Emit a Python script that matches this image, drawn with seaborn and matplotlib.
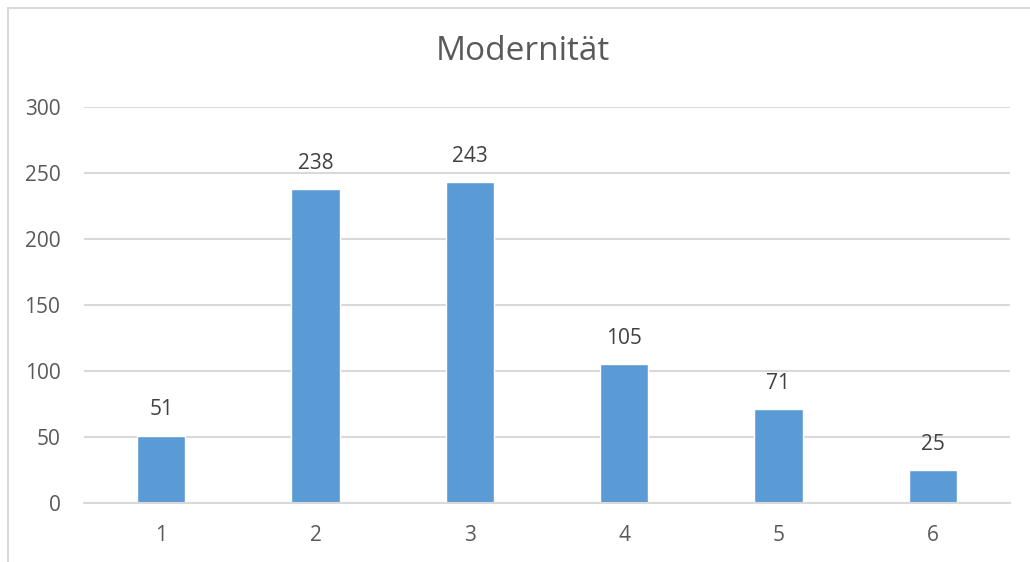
import matplotlib
matplotlib.use("Agg")
import matplotlib.pyplot as plt
import seaborn as sns
from matplotlib.lines import Line2D

# Data
categories = ["1", "2", "3", "4", "5", "6"]
values = [51, 238, 243, 105, 71, 25]
y_ticks = [0, 50, 100, 150, 200, 250, 300]
title = "Modernität"

BAR_COLOR = "#5B9BD5"
GRID_COLOR = "#D9D9D9"
TEXT_COLOR = "#595959"
LABEL_COLOR = "#404040"

sns.set_style("white")
plt.rcParams['font.family'] = ['Open Sans', 'DejaVu Sans']

fig = plt.figure(figsize=(10.3, 5.62), dpi=100)
ax = fig.add_axes([84 / 1030, 1 - 503 / 562, (1010 - 84) / 1030, (503 - 107) / 562])

sns.barplot(x=categories, y=values, color=BAR_COLOR, saturation=1, width=0.315, ax=ax)

ax.set_ylim(0, 300)
ax.set_xlim(-0.5, 5.5)
ax.set_yticks(y_ticks)
ax.yaxis.grid(True, color=GRID_COLOR, linewidth=1.5)
ax.set_axisbelow(True)
for side in ["top", "right", "left"]:
    ax.spines[side].set_visible(False)
ax.spines["bottom"].set_color(GRID_COLOR)
ax.spines["bottom"].set_linewidth(1.5)
ax.tick_params(axis="y", length=0, pad=17, labelsize=15, labelcolor=TEXT_COLOR)
ax.tick_params(axis="x", length=0, pad=16, labelsize=15, labelcolor=TEXT_COLOR)
ax.set_xlabel("")
ax.set_ylabel("")

# data labels
for i, v in enumerate(values):
    ax.annotate(str(v), (i, v), xytext=(0, 11), textcoords="offset points",
                ha="center", va="bottom", fontsize=15, color=LABEL_COLOR)

fig.text(523 / 1030, 1 - 52 / 562, title, ha="center", va="center",
         fontsize=24, color=TEXT_COLOR)

# chart frame (partially visible)
fig.add_artist(Line2D([8 / 1030, 8 / 1030], [0, 1 - 8 / 562], transform=fig.transFigure,
                      color=GRID_COLOR, linewidth=1.5))
fig.add_artist(Line2D([8 / 1030, 1], [1 - 8 / 562, 1 - 8 / 562], transform=fig.transFigure,
                      color=GRID_COLOR, linewidth=1.5))

fig.savefig("out.png", dpi=100, facecolor="white")
